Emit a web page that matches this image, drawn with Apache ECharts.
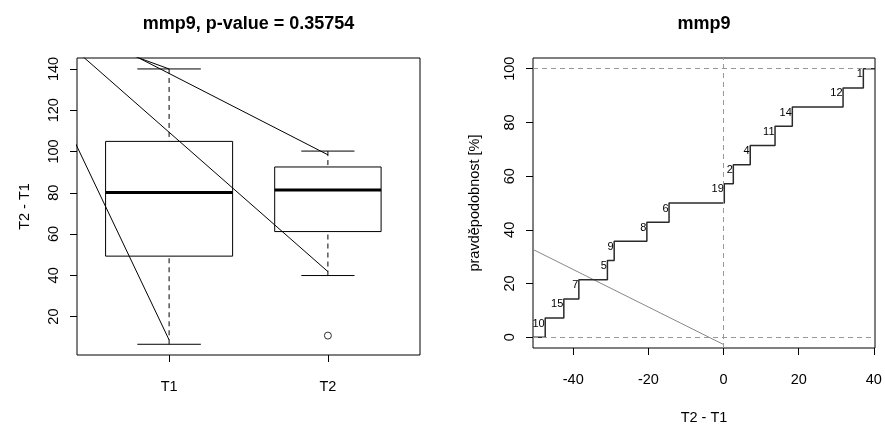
<!DOCTYPE html>
<html>
<head>
<meta charset="utf-8">
<script src="https://cdn.jsdelivr.net/npm/echarts@6/dist/echarts.min.js"></script>
<style>
  html, body { margin: 0; padding: 0; background: #fff; }
  #chart { width: 885px; height: 430px; }
</style>
</head>
<body>
<div id="chart"></div>
<script>
// ---- Left panel: box plot of mmp9 by time point ----
const groups = ['T1', 'T2'];
const boxMin = [6.6, 39.9];
const boxQ1 = [49.3, 61.2];
const boxMedian = [80.1, 81.4];
const boxQ3 = [104.9, 92.5];
const boxMax = [140, 100.2];
const boxWidth = [0.8, 0.67];
const outlierX = [2];
const outlierY = [10.8];
const leftYTicks = [20, 40, 60, 80, 100, 120, 140];

// connecting segments: start point (off to the left) and end point
const segStartX = [0.3, 0.3, 0.3, 0.3];
const segStartY = [121.8, 156.6, 165.4, 159.6];
const segEndX = [1, 2, 2, 1];
const segEndY = [8.7, 41.8, 98.4, 140];

// ---- Right panel: empirical distribution of T2 - T1 ----
const ecdfX = [-47.45, -42.5, -38.5, -30.9, -29.1, -20.4, -14.5, 0.2, 2.6, 7.1, 13.7, 18.3, 31.8, 37.2];
const ecdfY = [7.14, 14.29, 21.43, 28.57, 35.71, 42.86, 50, 57.14, 64.29, 71.43, 78.57, 85.71, 92.86, 100];
const ecdfLabels = ['10', '15', '7', '5', '9', '8', '6', '19', '2', '4', '11', '14', '12', '1'];
const trendX = [-50.7, 0];
const trendY = [32.7, -2.7];
const rightXTicks = [-40, -20, 0, 20, 40];
const rightYTicks = [0, 20, 40, 60, 80, 100];

const FONT = 'Liberation Sans, Arial, Helvetica, sans-serif';
const leftRange = { xMin: 0.42, xMax: 2.58, yMin: 1.4, yMax: 145.3 };
const rightRange = { xMin: -50.7, xMax: 40.3, yMin: -4, yMax: 104 };

const chart = echarts.init(document.getElementById('chart'), null, { renderer: 'canvas' });

const tickLabel = { color: '#000', fontFamily: FONT, fontSize: 14.5 };
const titleText = { fontFamily: FONT, fontSize: 18, fontWeight: 'bold', color: '#000' };

function renderBox(params, api) {
  const x = api.value(0), lo = api.value(1), q1 = api.value(2), md = api.value(3),
        q3 = api.value(4), hi = api.value(5), w = api.value(6);
  const tl = api.coord([x - w / 2, q3]);
  const br = api.coord([x + w / 2, q1]);
  const cx = api.coord([x, md]);
  const capL = api.coord([x - w / 4, hi])[0];
  const capR = api.coord([x + w / 4, hi])[0];
  const yHi = api.coord([x, hi])[1];
  const yLo = api.coord([x, lo])[1];
  const solid = { stroke: '#000', lineWidth: 1 };
  const dashed = { stroke: '#000', lineWidth: 1, lineDash: [5, 4] };
  return {
    type: 'group',
    children: [
      { type: 'line', shape: { x1: cx[0], y1: yHi, x2: cx[0], y2: tl[1] }, style: dashed },
      { type: 'line', shape: { x1: cx[0], y1: yLo, x2: cx[0], y2: br[1] }, style: dashed },
      { type: 'line', shape: { x1: capL, y1: yHi, x2: capR, y2: yHi }, style: solid },
      { type: 'line', shape: { x1: capL, y1: yLo, x2: capR, y2: yLo }, style: solid },
      { type: 'rect', shape: { x: tl[0], y: tl[1], width: br[0] - tl[0], height: br[1] - tl[1] },
        style: { fill: 'none', stroke: '#000', lineWidth: 1 } },
      { type: 'line', shape: { x1: tl[0], y1: cx[1], x2: br[0], y2: cx[1] },
        style: { stroke: '#000', lineWidth: 3 } }
    ]
  };
}

function renderStepLabel(params, api) {
  const p = api.coord([api.value(0), api.value(1)]);
  return {
    type: 'text',
    x: p[0] - 0.5,
    y: p[1],
    style: {
      text: ecdfLabels[api.value(2)],
      align: 'right',
      verticalAlign: 'top',
      fontFamily: FONT,
      fontSize: 11,
      fill: '#000'
    }
  };
}

const segmentSeries = segStartX.map((sx, i) => ({
  type: 'line',
  xAxisIndex: 0,
  yAxisIndex: 0,
  data: [[sx, segStartY[i]], [segEndX[i], segEndY[i]]],
  showSymbol: false,
  clip: true,
  silent: true,
  lineStyle: { color: '#000', width: 1 },
  z: 3
}));

const stepData = [[rightRange.xMin, 0]]
  .concat(ecdfX.map((x, i) => [x, ecdfY[i]]))
  .concat([[rightRange.xMax, 100]]);

const option = {
  animation: false,
  backgroundColor: '#fff',
  textStyle: { fontFamily: FONT },
  title: [
    { text: 'mmp9, p-value = 0.35754', left: 248.5, top: 15, textAlign: 'center', padding: 0, textStyle: titleText },
    { text: 'mmp9', left: 704, top: 15, textAlign: 'center', padding: 0, textStyle: titleText }
  ],
  grid: [
    { left: 77, top: 58, width: 343, height: 297, show: true, borderColor: '#000', borderWidth: 1, backgroundColor: 'transparent' },
    { left: 533, top: 58, width: 342, height: 297, show: true, borderColor: '#000', borderWidth: 1, backgroundColor: 'transparent' }
  ],
  xAxis: [
    {
      type: 'value', gridIndex: 0, min: leftRange.xMin, max: leftRange.xMax,
      axisLine: { show: false, onZero: false }, splitLine: { show: false },
      axisTick: { show: true, customValues: [1, 2], length: 7, lineStyle: { color: '#000' } },
      axisLabel: Object.assign({ customValues: [1, 2], margin: 24,
        formatter: v => groups[Math.round(v) - 1] }, tickLabel)
    },
    {
      type: 'value', gridIndex: 1, min: rightRange.xMin, max: rightRange.xMax,
      axisLine: { show: false, onZero: false }, splitLine: { show: false },
      axisTick: { show: true, customValues: rightXTicks, length: 7, lineStyle: { color: '#000' } },
      axisLabel: Object.assign({ customValues: rightXTicks, margin: 24 }, tickLabel),
      name: 'T2 - T1', nameLocation: 'middle', nameGap: 62,
      nameTextStyle: { fontFamily: FONT, fontSize: 14.5, color: '#000' }
    }
  ],
  yAxis: [
    {
      type: 'value', gridIndex: 0, min: leftRange.yMin, max: leftRange.yMax,
      axisLine: { show: false, onZero: false }, splitLine: { show: false },
      axisTick: { show: true, customValues: leftYTicks, length: 7, lineStyle: { color: '#000' } },
      axisLabel: Object.assign({ customValues: leftYTicks, margin: 16, rotate: 90 }, tickLabel),
      name: 'T2 - T1', nameLocation: 'middle', nameGap: 45, nameRotate: 90,
      nameTextStyle: { fontFamily: FONT, fontSize: 14.5, color: '#000' }
    },
    {
      type: 'value', gridIndex: 1, min: rightRange.yMin, max: rightRange.yMax,
      axisLine: { show: false, onZero: false }, splitLine: { show: false },
      axisTick: { show: true, customValues: rightYTicks, length: 7, lineStyle: { color: '#000' } },
      axisLabel: Object.assign({ customValues: rightYTicks, margin: 16, rotate: 90 }, tickLabel),
      name: 'pravděpodobnost [%]', nameLocation: 'middle', nameGap: 51, nameRotate: 90,
      nameTextStyle: { fontFamily: FONT, fontSize: 14.5, color: '#000' }
    }
  ],
  series: [
    {
      type: 'custom',
      xAxisIndex: 0, yAxisIndex: 0,
      renderItem: renderBox,
      encode: { x: 0, y: [1, 2, 3, 4, 5] },
      data: groups.map((g, i) => [i + 1, boxMin[i], boxQ1[i], boxMedian[i], boxQ3[i], boxMax[i], boxWidth[i]]),
      silent: true,
      z: 2
    },
    {
      type: 'scatter',
      xAxisIndex: 0, yAxisIndex: 0,
      data: outlierX.map((x, i) => [x, outlierY[i]]),
      symbol: 'circle', symbolSize: 7,
      itemStyle: { color: 'rgba(0,0,0,0)', borderColor: '#000', borderWidth: 1 },
      silent: true,
      z: 3
    }
  ].concat(segmentSeries).concat([
    {
      type: 'line',
      xAxisIndex: 1, yAxisIndex: 1,
      data: stepData,
      step: 'end',
      showSymbol: false,
      silent: true,
      lineStyle: { color: '#2a2a2a', width: 1.5 },
      z: 3,
      markLine: {
        silent: true,
        symbol: ['none', 'none'],
        label: { show: false },
        lineStyle: { color: '#999', width: 1, type: [5, 4] },
        data: [{ yAxis: 0 }, { yAxis: 100 }, { xAxis: 0 }]
      }
    },
    {
      type: 'line',
      xAxisIndex: 1, yAxisIndex: 1,
      data: trendX.map((x, i) => [x, trendY[i]]),
      showSymbol: false,
      silent: true,
      lineStyle: { color: '#888', width: 1 },
      z: 2
    },
    {
      type: 'custom',
      xAxisIndex: 1, yAxisIndex: 1,
      renderItem: renderStepLabel,
      encode: { x: 0, y: 1 },
      data: ecdfX.map((x, i) => [x, ecdfY[i], i]),
      silent: true,
      z: 4
    }
  ])
};

chart.setOption(option);
</script>
</body>
</html>
